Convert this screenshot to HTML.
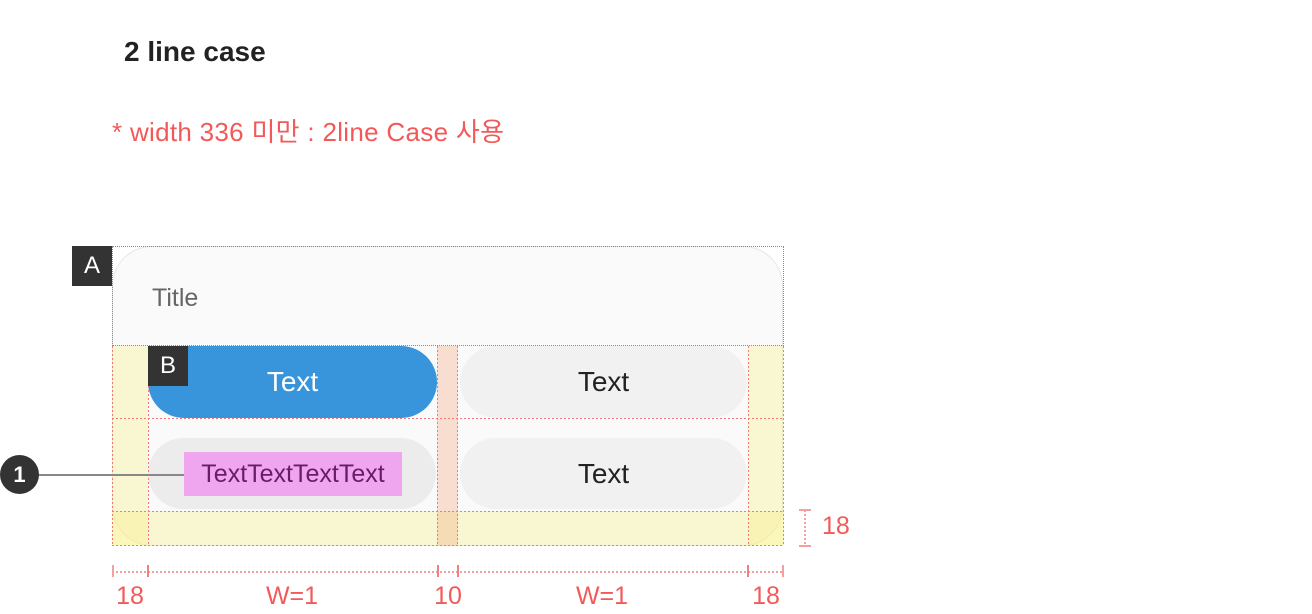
<!DOCTYPE html>
<html><head><meta charset="utf-8"><style>
body{margin:0;width:1312px;height:614px;background:#fff;position:relative;overflow:hidden;font-family:"Liberation Sans","Noto Sans CJK KR",sans-serif}
div,span{position:absolute;box-sizing:border-box}
.c{display:flex;align-items:center;justify-content:center}
.red{color:#f25a5a}
.vl{width:1px;background:repeating-linear-gradient(to bottom,#f27a7a 0 2px,transparent 2px 4px)}
.hl{height:1px;background:repeating-linear-gradient(to right,#f27a7a 0 2px,transparent 2px 4px)}
</style></head><body>
<div style="left:124px;top:36px;font-size:28px;font-weight:bold;color:#222">2 line case</div>
<div class="red" style="left:112px;top:112px;font-size:26px;letter-spacing:0.3px">* width 336 미만 : 2line Case 사용</div>

<div style="left:112px;top:246px;width:671px;height:300px;background:#fafafa;border-radius:40px;border:1px solid #e6e6e6"></div>
<div style="left:112px;top:246px;width:672px;height:100px;border:1px dotted #6a9a86"></div>
<div style="left:152px;top:284px;font-size:25px;color:#666">Title</div>

<div style="left:112px;top:346px;width:36px;height:200px;background:rgba(250,240,120,.3)"></div>
<div style="left:748px;top:346px;width:36px;height:200px;background:rgba(250,240,120,.3)"></div>
<div style="left:112px;top:511px;width:672px;height:35px;background:rgba(250,240,120,.3)"></div>
<div style="left:437px;top:346px;width:21px;height:200px;background:rgba(240,170,130,.35)"></div>

<div class="c" style="left:148px;top:346px;width:289px;height:72px;background:#3895db;border-radius:36px;color:#fff;font-size:28px">Text</div>
<div class="c" style="left:460px;top:346px;width:287px;height:72px;background:#f1f1f1;border-radius:36px;color:#222;font-size:28px">Text</div>
<div style="left:148px;top:438px;width:288px;height:71px;background:#ececec;border-radius:36px"></div>
<div class="c" style="left:184px;top:452px;width:218px;height:44px;background:#f0a6ef;color:#6a1a6a;font-size:25px">TextTextTextText</div>
<div class="c" style="left:460px;top:438px;width:287px;height:71px;background:#f1f1f1;border-radius:36px;color:#222;font-size:28px">Text</div>

<div class="vl" style="left:112px;top:346px;height:200px"></div>
<div class="vl" style="left:148px;top:346px;height:200px"></div>
<div class="vl" style="left:437px;top:346px;height:200px"></div>
<div class="vl" style="left:457px;top:346px;height:200px"></div>
<div class="vl" style="left:748px;top:346px;height:200px"></div>
<div class="vl" style="left:783px;top:346px;height:200px"></div>
<div class="hl" style="left:112px;top:418px;width:672px"></div>
<div class="hl" style="left:112px;top:511px;width:672px"></div>
<div class="hl" style="left:112px;top:545px;width:672px"></div>

<div class="c" style="left:72px;top:246px;width:40px;height:40px;background:#333;color:#fff;font-size:24px">A</div>
<div class="c" style="left:148px;top:346px;width:40px;height:40px;background:#333;color:#fff;font-size:24px">B</div>

<div style="left:36px;top:474px;width:148px;height:2px;background:#888"></div>
<div class="c" style="left:0;top:455px;width:39px;height:39px;border-radius:50%;background:#333;color:#fff;font-size:22px;font-weight:bold">1</div>

<div style="left:112px;top:571px;width:672px;height:2px;background:repeating-linear-gradient(to right,#f5a0a0 0 2px,transparent 2px 4px)"></div>
<div style="left:112px;top:565px;width:2px;height:12px;background:#f5a0a0"></div>
<div style="left:147px;top:565px;width:2px;height:12px;background:#f08080"></div>
<div style="left:437px;top:565px;width:2px;height:12px;background:#f08080"></div>
<div style="left:457px;top:565px;width:2px;height:12px;background:#f08080"></div>
<div style="left:747px;top:565px;width:2px;height:12px;background:#f08080"></div>
<div style="left:782px;top:565px;width:2px;height:12px;background:#f5a0a0"></div>
<div class="c red" style="left:100px;top:581px;width:60px;height:30px;font-size:25px">18</div>
<div class="c red" style="left:242px;top:581px;width:100px;height:30px;font-size:25px">W=1</div>
<div class="c red" style="left:418px;top:581px;width:60px;height:30px;font-size:25px">10</div>
<div class="c red" style="left:552px;top:581px;width:100px;height:30px;font-size:25px">W=1</div>
<div class="c red" style="left:736px;top:581px;width:60px;height:30px;font-size:25px">18</div>

<div style="left:804px;top:510px;width:2px;height:36px;background:repeating-linear-gradient(to bottom,#f5a0a0 0 2px,transparent 2px 4px)"></div>
<div style="left:799px;top:509px;width:12px;height:2px;background:#f5a0a0"></div>
<div style="left:799px;top:545px;width:12px;height:2px;background:#f5a0a0"></div>
<div class="red" style="left:822px;top:512px;font-size:25px">18</div>
</body></html>
